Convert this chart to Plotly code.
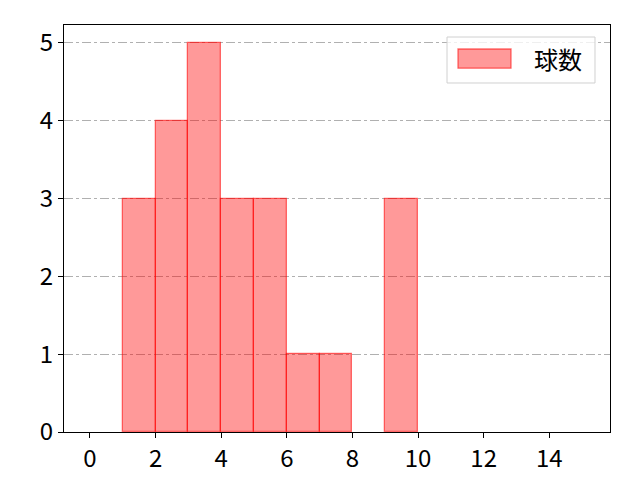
import plotly.graph_objects as go

# histogram of pitches per at-bat
bin_left = [1, 2, 3, 4, 5, 6, 7, 9]
counts = [3, 4, 5, 3, 3, 1, 1, 3]
series_name = "球数"
x_ticks = [0, 2, 4, 6, 8, 10, 12, 14]
y_ticks = [0, 1, 2, 3, 4, 5]

centers = [b + 0.5 for b in bin_left]

fig = go.Figure()
fig.add_trace(go.Bar(
    x=centers, y=counts, width=1, name=series_name,
    marker=dict(color="rgba(255,0,0,0.4)", line=dict(color="rgba(255,0,0,0.55)", width=1.3)),
    showlegend=False,
))

axis_common = dict(
    showline=True, linecolor="black", linewidth=1.2, mirror=True,
    ticks="outside", ticklen=5, tickwidth=1.2, tickcolor="black",
    tickfont=dict(size=24, color="black", family="Noto Sans CJK JP"), zeroline=False,
)
fig.update_xaxes(range=[-0.79, 15.85], tickvals=x_ticks, showgrid=False, **axis_common)
fig.update_yaxes(range=[0, 5.23], tickvals=y_ticks, showgrid=True,
                 gridcolor="#b0b0b0", griddash="dashdot", gridwidth=1, **axis_common)

# legend box drawn like matplotlib's (wide patch + label)
fig.add_shape(type="rect", xref="paper", yref="paper", x0=0.7015, x1=0.9725, y0=0.8575, y1=0.9705,
              line=dict(color="#d0d0d0", width=1), fillcolor="rgba(255,255,255,0.8)", layer="above")
fig.add_shape(type="rect", xref="paper", yref="paper", x0=0.7216, x1=0.8187, y0=0.894, y1=0.941,
              line=dict(color="rgba(255,0,0,0.55)", width=1.3), fillcolor="rgba(255,0,0,0.4)", layer="above")
fig.add_annotation(xref="paper", yref="paper", x=0.9048, y=0.9165, text=series_name, showarrow=False,
                   font=dict(size=24, color="black"), xanchor="center", yanchor="middle")

fig.update_layout(
    width=640, height=480,
    margin=dict(l=56, r=38, t=17, b=56),
    plot_bgcolor="white", paper_bgcolor="white",
    font=dict(family="Noto Sans CJK JP, DejaVu Sans", color="black"),
    bargap=0,
)

fig.write_html("out.html")
